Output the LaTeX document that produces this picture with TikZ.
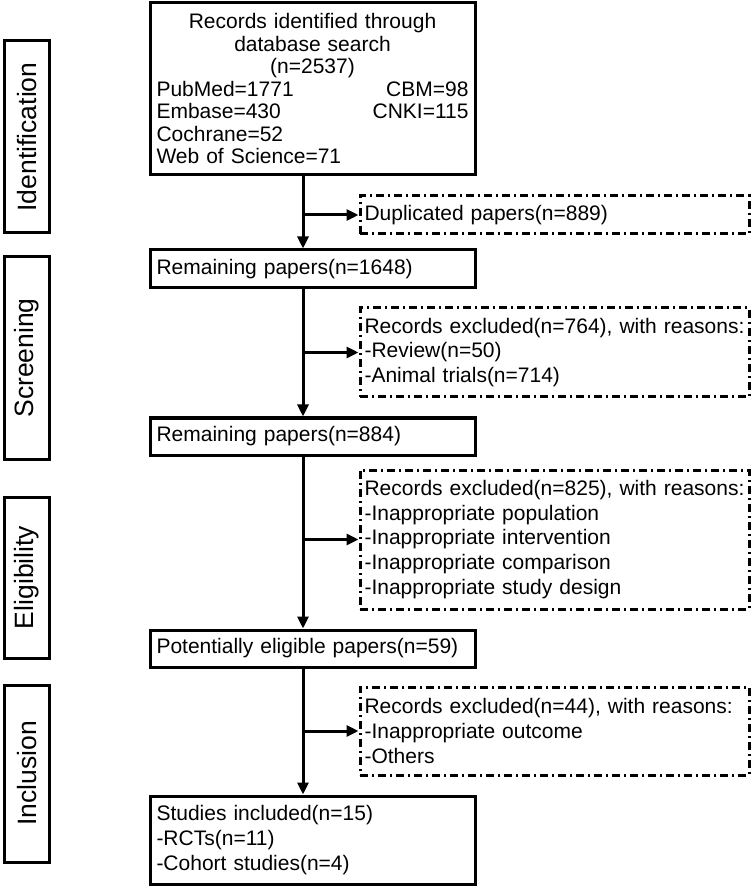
\documentclass[tikz,border=0pt]{standalone}
\usepackage{fontspec}
\setmainfont{Liberation Sans}
\usepackage{tikz}
\usetikzlibrary{arrows.meta,positioning}

\begin{document}
\begin{tikzpicture}[x=0.5pt,y=-0.5pt,
  phase/.style={draw, line width=1.5pt, rotate=90, minimum height=22.5pt,
    inner sep=0pt, font=\fontsize{13.25}{15}\selectfont},
  mainbox/.style={draw, line width=1.5pt, anchor=west, minimum width=162.5pt,
    text width=156pt, inner xsep=3.25pt, inner ysep=0pt, align=left,
    font=\fontsize{10.5}{12.4}\selectfont},
  sidebox/.style={draw, line width=1.5pt, dash pattern=on 4pt off 2pt on 1pt off 2pt,
    anchor=west, minimum width=194.5pt, text width=190pt, inner xsep=2.25pt,
    inner ysep=0pt, align=left, font=\fontsize{10.5}{12.4}\selectfont},
  flow/.style={line width=1.5pt, -{Triangle[length=6pt,width=5.5pt]}}]
\useasboundingbox (0,0) rectangle (750,886);

% phases
\node[phase, minimum width=96pt]   (ident) at (27,137)   {Identification};
\node[phase, minimum width=101pt]  (screen) at (27,358)  {Screening};
\node[phase, minimum width=80.5pt] (elig) at (27,577.5)  {Eligibility};
\node[phase, minimum width=88.5pt] (incl) at (27,773.5)  {Inclusion};

% main column
\node[mainbox, minimum height=86pt, align=center,
      font=\fontsize{10.5}{11.25}\selectfont] (search) at (148.5,89)
  {\centering Records identified through\\ database search\\ (n=2537)\par
   \raggedright PubMed=1771\hfill CBM=98\\
   Embase=430\hfill CNKI=115\\
   Cochrane=52\\
   Web of Science=71\par};
\node[mainbox, minimum height=19pt]   (r1648) at (148.5,269)   {Remaining papers(n=1648)};
\node[mainbox, minimum height=18.5pt] (r884) at (148.5,436.5)  {Remaining papers(n=884)};
\node[mainbox, minimum height=18.5pt] (p59) at (148.5,648.5)   {Potentially eligible papers(n=59)};
\node[mainbox, minimum height=44pt]   (studies) at (148.5,840)
  {Studies included(n=15)\\-RCTs(n=11)\\-Cohort studies(n=4)};

% excluded
\node[sidebox, minimum height=19pt]   (dup) at (358.5,215)     {Duplicated papers(n=889)};
\node[sidebox, minimum height=44.5pt] (ex764) at (358.5,352.5)
  {Records excluded(n=764), with reasons:\\-Review(n=50)\\-Animal trials(n=714)};
\node[sidebox, minimum height=69.5pt] (ex825) at (358.5,539.5)
  {Records excluded(n=825), with reasons:\\-Inappropriate population\\-Inappropriate intervention\\-Inappropriate comparison\\-Inappropriate study design};
\node[sidebox, minimum height=44pt]   (ex44) at (358.5,731)
  {Records excluded(n=44), with reasons:\\-Inappropriate outcome\\-Others};

% arrows
\coordinate (trunk) at (303,0);
\draw[flow] (search.south -| trunk) -- (r1648.north -| trunk);
\draw[flow] (r1648.south -| trunk) -- (r884.north -| trunk);
\draw[flow] (r884.south -| trunk) -- (p59.north -| trunk);
\draw[flow] (p59.south -| trunk) -- (studies.north -| trunk);
\draw[flow] (dup.west -| trunk) -- (dup.west);
\draw[flow] (ex764.west -| trunk) -- (ex764.west);
\draw[flow] (ex825.west -| trunk) -- (ex825.west);
\draw[flow] (ex44.west -| trunk) -- (ex44.west);
\end{tikzpicture}
\end{document}
